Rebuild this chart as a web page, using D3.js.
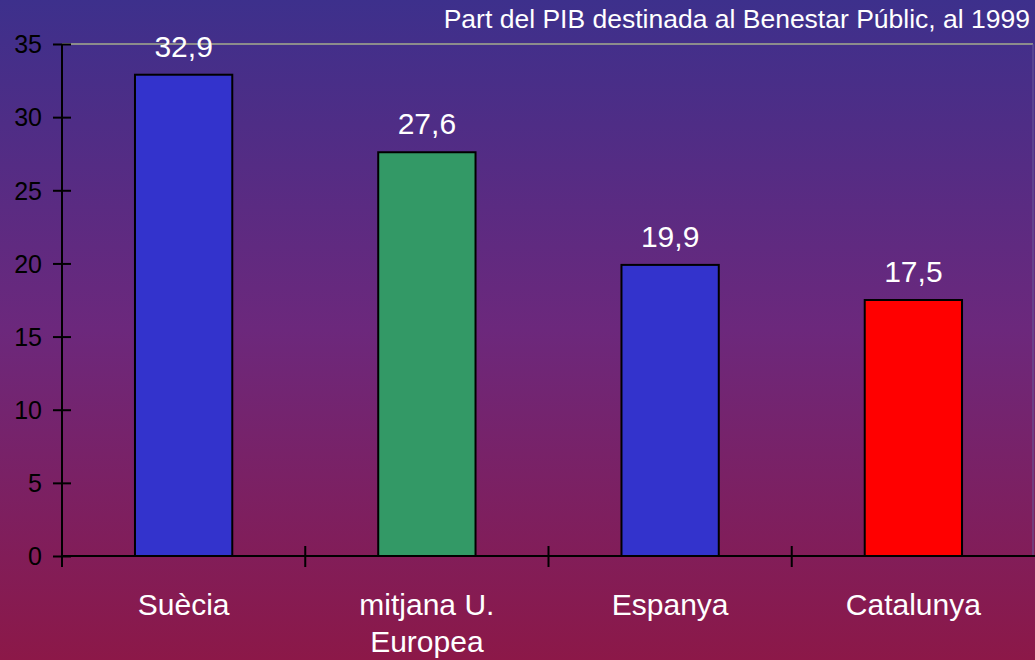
<!DOCTYPE html>
<html>
<head>
<meta charset="utf-8">
<script src="https://cdn.jsdelivr.net/npm/d3@7"></script>
<style>
  body { margin: 0; overflow: hidden; }
  text { font-family: "Liberation Sans", Arial, sans-serif; }
</style>
</head>
<body>
<script>
var categories = ["Suècia", "mitjana U.|Europea", "Espanya", "Catalunya"];
var values = [32.9, 27.6, 19.9, 17.5];
var labels = ["32,9", "27,6", "19,9", "17,5"];
var barColors = ["#3333cc", "#339966", "#3333cc", "#ff0000"];
var yTicks = [0, 5, 10, 15, 20, 25, 30, 35];
var title = "Part del PIB destinada al Benestar Públic, al 1999";

var width = 1035;
var height = 660;
var margin = {top: 44, right: 0, bottom: 104, left: 62};
var innerW = width - margin.left - margin.right;
var innerH = height - margin.top - margin.bottom;

var svg = d3.select("body")
    .append("svg")
    .attr("width", width)
    .attr("height", height);

// background gradient
var grad = svg.append("defs").append("linearGradient")
    .attr("id", "bg")
    .attr("x1", 0).attr("y1", 0)
    .attr("x2", 0).attr("y2", 1);
grad.append("stop").attr("offset", "0%").attr("stop-color", "#3d308c");
grad.append("stop").attr("offset", "50%").attr("stop-color", "#6c287c");
grad.append("stop").attr("offset", "100%").attr("stop-color", "#8c1848");

svg.append("rect")
    .attr("width", width)
    .attr("height", height)
    .attr("fill", "url(#bg)");

var g = svg.append("g")
    .attr("transform", "translate(" + margin.left + ", " + margin.top + ")");

var x = d3.scaleBand()
    .domain(categories)
    .range([0, innerW])
    .padding(0);

var y = d3.scaleLinear()
    .domain([0, 35])
    .range([innerH, 0]);

var barW = x.bandwidth() * 0.4;

// top gridline
g.append("line")
    .attr("x1", 0)
    .attr("x2", innerW - 2)
    .attr("y1", y(35))
    .attr("y2", y(35))
    .attr("stroke", "#8c8c8c")
    .attr("stroke-width", 2);
g.append("line")
    .attr("x1", innerW - 2)
    .attr("x2", innerW - 2)
    .attr("y1", y(35))
    .attr("y2", innerH)
    .attr("stroke", "#6a5a9a")
    .attr("stroke-width", 1);

// bars
g.selectAll("rect.bar")
    .data(values)
    .enter()
    .append("rect")
    .attr("class", "bar")
    .attr("x", (d, i) => x(categories[i]) + (x.bandwidth() - barW) / 2)
    .attr("y", (d) => y(d))
    .attr("width", barW)
    .attr("height", (d) => innerH - y(d))
    .attr("fill", (d, i) => barColors[i])
    .attr("stroke", "black")
    .attr("stroke-width", 2);

// value labels
g.selectAll("text.val")
    .data(values)
    .enter()
    .append("text")
    .attr("class", "val")
    .attr("x", (d, i) => x(categories[i]) + x.bandwidth() / 2)
    .attr("y", (d) => y(d) - 18)
    .attr("text-anchor", "middle")
    .attr("font-size", "30px")
    .attr("fill", "white")
    .text((d, i) => labels[i]);

// y axis
var leftAxis = d3.axisLeft(y)
    .tickValues(yTicks)
    .tickSize(0)
    .tickPadding(20);
var ya = g.append("g").attr("class", "left axis").call(leftAxis);
ya.select(".domain").remove();
ya.selectAll("text")
    .attr("font-size", "25px")
    .attr("fill", "black")
    .attr("dy", "0.35em");
ya.selectAll(".tick").append("line")
    .attr("x1", -9).attr("x2", 9)
    .attr("stroke", "black").attr("stroke-width", 2);
g.append("line")
    .attr("x1", 0).attr("x2", 0)
    .attr("y1", 0).attr("y2", innerH + 11)
    .attr("stroke", "black").attr("stroke-width", 2);

// x axis
g.append("line")
    .attr("x1", 0).attr("x2", innerW)
    .attr("y1", innerH).attr("y2", innerH)
    .attr("stroke", "black").attr("stroke-width", 2);
var bounds = categories.map((c) => x(c)).slice(1);
g.selectAll("line.xtick")
    .data(bounds)
    .enter()
    .append("line")
    .attr("class", "xtick")
    .attr("x1", (d) => d).attr("x2", (d) => d)
    .attr("y1", innerH - 10).attr("y2", innerH + 11)
    .attr("stroke", "black").attr("stroke-width", 2);

var xl = g.selectAll("text.cat")
    .data(categories)
    .enter()
    .append("text")
    .attr("class", "cat")
    .attr("x", (d) => x(d) + x.bandwidth() / 2)
    .attr("y", innerH + 59)
    .attr("text-anchor", "middle")
    .attr("font-size", "30px")
    .attr("fill", "white");
xl.each(function(d) {
    var parts = d.split("|");
    var t = d3.select(this);
    parts.forEach((p, i) => {
        t.append("tspan")
            .attr("x", x(d) + x.bandwidth() / 2)
            .attr("dy", i === 0 ? 0 : 37)
            .text(p);
    });
});

// title
svg.append("text")
    .attr("x", 1030)
    .attr("y", 28)
    .attr("text-anchor", "end")
    .attr("font-size", "26.5px")
    .attr("fill", "white")
    .text(title);
</script>
</body>
</html>
